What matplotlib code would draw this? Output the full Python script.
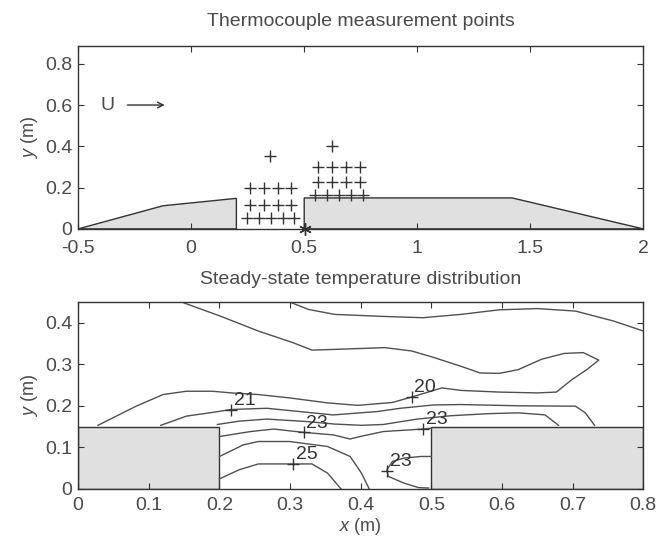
import matplotlib
matplotlib.use("Agg")
import matplotlib.pyplot as plt
import numpy as np

plt.rcParams["font.family"] = ["Liberation Sans", "DejaVu Sans"]
plt.rcParams["mathtext.fontset"] = "custom"
plt.rcParams["mathtext.rm"] = "Liberation Sans"
plt.rcParams["mathtext.it"] = "Liberation Sans:italic"

TXT = "#4a4a4a"
LINE = "#333333"
CONT = "#505050"
FILL = "#e0e0e0"

# ---- top panel: model outline and thermocouple positions ----
front_body_x = [-0.5, -0.125, 0.2, 0.2]
front_body_y = [0.0, 0.112, 0.148, 0.0]
rear_body_x = [0.5, 0.5, 1.42, 2.0]
rear_body_y = [0.0, 0.15, 0.15, 0.0]

tc_left_x = [0.261, 0.324, 0.382, 0.441,
             0.261, 0.324, 0.382, 0.441,
             0.246, 0.302, 0.353, 0.406, 0.457,
             0.350]
tc_left_y = [0.199, 0.199, 0.199, 0.199,
             0.116, 0.116, 0.116, 0.116,
             0.055, 0.055, 0.055, 0.055, 0.055,
             0.354]
tc_right_x = [0.563, 0.625, 0.686, 0.748,
              0.563, 0.625, 0.686, 0.748,
              0.549, 0.600, 0.652, 0.707, 0.762,
              0.622]
tc_right_y = [0.302, 0.302, 0.302, 0.302,
              0.229, 0.229, 0.229, 0.229,
              0.165, 0.165, 0.165, 0.165, 0.165,
              0.402]
star_x = [0.504]
star_y = [0.0]

# ---- bottom panel: hand-read contour lines ----
c20_x = [0.146, 0.201, 0.255, 0.304, 0.331, 0.385, 0.434, 0.472, 0.504, 0.542,
         0.569, 0.596, 0.623, 0.656, 0.688, 0.715, 0.737, 0.720, 0.699, 0.677,
         0.650, 0.596, 0.542, 0.515, 0.472, 0.445, 0.396, 0.353, 0.299, 0.255,
         0.217, 0.190, 0.153, 0.120, 0.082, 0.028]
c20_y = [0.450, 0.416, 0.380, 0.352, 0.334, 0.337, 0.340, 0.332, 0.316, 0.295,
         0.279, 0.278, 0.287, 0.312, 0.326, 0.328, 0.310, 0.287, 0.263, 0.233,
         0.231, 0.233, 0.237, 0.243, 0.221, 0.208, 0.201, 0.207, 0.219, 0.227,
         0.231, 0.235, 0.235, 0.227, 0.199, 0.153]
c20b_x = [0.299, 0.326, 0.363, 0.434, 0.488, 0.542, 0.596, 0.650, 0.704, 0.758, 0.800]
c20b_y = [0.450, 0.432, 0.420, 0.415, 0.412, 0.420, 0.431, 0.434, 0.428, 0.404, 0.380]
c21_x = [0.117, 0.153, 0.190, 0.216, 0.267, 0.314, 0.361, 0.423, 0.456, 0.503,
         0.542, 0.623, 0.704, 0.718, 0.731]
c21_y = [0.153, 0.175, 0.184, 0.191, 0.194, 0.186, 0.178, 0.186, 0.194, 0.202,
         0.203, 0.200, 0.199, 0.183, 0.153]
c22_x = [0.197, 0.228, 0.267, 0.324, 0.363, 0.401, 0.432, 0.480, 0.527, 0.580,
         0.623, 0.661, 0.680]
c22_y = [0.155, 0.163, 0.168, 0.162, 0.156, 0.153, 0.155, 0.168, 0.176, 0.181,
         0.183, 0.178, 0.153]
c23_x = [0.200, 0.244, 0.277, 0.319, 0.361, 0.385, 0.399, 0.432, 0.488, 0.500]
c23_y = [0.126, 0.138, 0.144, 0.136, 0.130, 0.120, 0.126, 0.138, 0.144, 0.146]
c24_x = [0.200, 0.234, 0.255, 0.299, 0.353, 0.385, 0.401, 0.412]
c24_y = [0.078, 0.106, 0.114, 0.114, 0.102, 0.078, 0.038, 0.000]
c25_x = [0.200, 0.228, 0.255, 0.304, 0.331, 0.353, 0.372]
c25_y = [0.024, 0.046, 0.060, 0.060, 0.060, 0.038, 0.000]
c23i_x = [0.500, 0.485, 0.461, 0.445, 0.437, 0.439, 0.461, 0.482, 0.496]
c23i_y = [0.078, 0.078, 0.074, 0.066, 0.046, 0.030, 0.014, 0.003, 0.002]

label_text = ["21", "20", "23", "23", "25", "23"]
label_mark_x = [0.216, 0.472, 0.319, 0.488, 0.304, 0.437]
label_mark_y = [0.191, 0.221, 0.136, 0.144, 0.060, 0.044]

top_xticks = [-0.5, 0, 0.5, 1, 1.5, 2]
top_xticklabels = ["-0.5", "0", "0.5", "1", "1.5", "2"]
top_yticks = [0, 0.2, 0.4, 0.6, 0.8]
top_yticklabels = ["0", "0.2", "0.4", "0.6", "0.8"]
bot_xticks = [0, 0.1, 0.2, 0.3, 0.4, 0.5, 0.6, 0.7, 0.8]
bot_xticklabels = ["0", "0.1", "0.2", "0.3", "0.4", "0.5", "0.6", "0.7", "0.8"]
bot_yticks = [0, 0.1, 0.2, 0.3, 0.4]
bot_yticklabels = ["0", "0.1", "0.2", "0.3", "0.4"]


def style_axes(ax, xpad):
    for s in ax.spines.values():
        s.set_color(LINE)
        s.set_linewidth(1.0)
    ax.tick_params(direction="in", length=4, width=0.8, color=LINE,
                   top=True, right=True, labelsize=14, labelcolor=TXT)
    ax.tick_params(axis="x", pad=xpad)
    ax.tick_params(axis="y", pad=4)


fig = plt.figure(figsize=(6.68, 5.45), dpi=100)

# top panel
ax1 = fig.add_axes([0.117, 0.580, 0.846, 0.336])
ax1.fill(front_body_x, front_body_y, facecolor=FILL, edgecolor=LINE, linewidth=1.0)
ax1.fill(rear_body_x, rear_body_y, facecolor=FILL, edgecolor=LINE, linewidth=1.0)
ax1.plot(tc_left_x, tc_left_y, linestyle="none", marker="+", markersize=9,
         markeredgewidth=1.0, color=LINE)
ax1.plot(tc_right_x, tc_right_y, linestyle="none", marker="+", markersize=9,
         markeredgewidth=1.0, color=LINE)
ax1.plot(star_x, star_y, linestyle="none", marker=(6, 2, 0), markersize=9,
         markeredgewidth=1.0, color=LINE, clip_on=False)
ax1.text(-0.37, 0.6, "U", fontsize=14, color=TXT, ha="center", va="center")
ax1.annotate("", xy=(-0.105, 0.6), xytext=(-0.295, 0.6),
             arrowprops=dict(arrowstyle="->", color=LINE, lw=1.0))
ax1.set_xlim(-0.5, 2)
ax1.set_ylim(0, 0.887)
ax1.set_xticks(top_xticks)
ax1.set_xticklabels(top_xticklabels)
ax1.set_yticks(top_yticks)
ax1.set_yticklabels(top_yticklabels)
ax1.set_ylabel("$\\mathit{y}$ (m)", fontsize=13, color=TXT, labelpad=4)
ax1.set_title("Thermocouple measurement points", fontsize=14, color=TXT, pad=14)
style_axes(ax1, 8)

# bottom panel
ax2 = fig.add_axes([0.117, 0.103, 0.846, 0.343])
ax2.fill([0, 0, 0.2, 0.2], [0, 0.15, 0.15, 0], facecolor=FILL, edgecolor=LINE, linewidth=1.0)
ax2.fill([0.5, 0.5, 0.8, 0.8], [0, 0.15, 0.15, 0], facecolor=FILL, edgecolor=LINE, linewidth=1.0)
for cx, cy in [(c20_x, c20_y), (c20b_x, c20b_y), (c21_x, c21_y), (c22_x, c22_y),
               (c23_x, c23_y), (c24_x, c24_y), (c25_x, c25_y), (c23i_x, c23i_y)]:
    ax2.plot(cx, cy, color=CONT, linewidth=1.0)
ax2.plot(label_mark_x, label_mark_y, linestyle="none", marker="+", markersize=9,
         markeredgewidth=1.0, color=LINE)
for t, mx, my in zip(label_text, label_mark_x, label_mark_y):
    ax2.text(mx + 0.004, my + 0.002, t, fontsize=14, color=LINE, ha="left", va="bottom")
ax2.set_xlim(0, 0.8)
ax2.set_ylim(0, 0.45)
ax2.set_xticks(bot_xticks)
ax2.set_xticklabels(bot_xticklabels)
ax2.set_yticks(bot_yticks)
ax2.set_yticklabels(bot_yticklabels)
ax2.set_ylabel("$\\mathit{y}$ (m)", fontsize=13, color=TXT, labelpad=4)
ax2.set_xlabel("$\\mathit{x}$ (m)", fontsize=13, color=TXT, labelpad=1)
ax2.set_title("Steady-state temperature distribution", fontsize=14, color=TXT, pad=13)
style_axes(ax2, 6)

fig.savefig("out.png", dpi=100)
